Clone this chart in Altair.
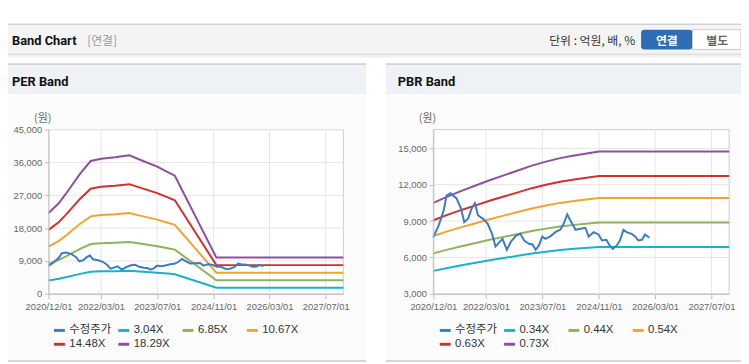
import altair as alt
import pandas as pd

# ---------------- chart values ----------------
price_name = "수정주가"

per_band_names = ["3.04X", "6.85X", "10.67X", "14.48X", "18.29X"]
per_band_multiples = [3.04, 6.85, 10.67, 14.48, 18.29]
pbr_band_names = ["0.34X", "0.44X", "0.54X", "0.63X", "0.73X"]
pbr_band_multiples = [0.34, 0.44, 0.54, 0.63, 0.73]

# per-share earnings behind the PER band lines
eps_dates = ["2020-12-01", "2021-03-01", "2021-05-01", "2021-09-01", "2021-12-01",
             "2022-03-01", "2022-07-01", "2022-11-01", "2023-03-01", "2023-07-01",
             "2023-10-01", "2023-12-01", "2024-11-25", "2027-12-01"]
eps_values = [1210, 1360, 1500, 1800, 1990, 2025, 2045, 2075, 1990, 1905,
              1825, 1770, 543, 543]

# per-share book value behind the PBR band lines
bps_dates = ["2020-12-01", "2021-04-01", "2021-08-01", "2021-12-01", "2022-04-01",
             "2022-08-01", "2022-12-01", "2023-04-01", "2023-08-01", "2023-12-01",
             "2024-04-01", "2024-08-01", "2024-11-01", "2027-12-01"]
bps_values = [14400, 15100, 15750, 16350, 16950, 17500, 18050, 18600, 19050, 19450,
              19750, 20000, 20200, 20200]

# adjusted share price (수정주가)
price_dates = ["2020-12-01", "2021-01-16", "2021-02-28", "2021-03-25", "2021-04-28",
               "2021-06-19", "2021-07-28", "2021-08-25", "2021-09-28", "2021-10-28",
               "2021-11-25", "2021-12-22", "2022-02-04", "2022-03-16", "2022-04-22",
               "2022-05-22", "2022-06-25", "2022-07-22", "2022-08-28", "2022-10-04",
               "2022-11-16", "2022-12-22", "2023-01-25", "2023-03-07", "2023-04-07",
               "2023-05-04", "2023-06-01", "2023-07-01", "2023-07-28", "2023-09-10",
               "2023-10-22", "2023-12-04", "2024-01-01", "2024-02-01", "2024-02-28",
               "2024-04-13", "2024-05-25", "2024-07-07", "2024-08-04", "2024-09-16",
               "2024-10-28", "2024-11-28", "2025-01-04", "2025-02-01", "2025-03-01",
               "2025-04-04", "2025-05-01", "2025-06-01", "2025-06-28", "2025-08-10",
               "2025-09-10", "2025-10-07", "2025-11-07", "2025-12-04", "2026-01-10"]
price_values = [7670, 8640, 9880, 11100, 11300, 10870, 10040, 8910, 9220, 10040,
                10480, 9470, 9190, 8780, 7950, 6900, 7260, 7540, 6630, 7340,
                7810, 7950, 7400, 7130, 7070, 6630, 6990, 7730, 7540, 7760,
                8090, 8300, 8780, 9550, 9050, 8280, 8370, 8450, 7730, 8090,
                7900, 7400, 7460, 6990, 6710, 6990, 7400, 8280, 8090, 7950,
                7730, 7400, 7460, 7900, 7620]

x_tick_dates = ["2020-12-01", "2022-03-01", "2023-07-01", "2024-11-01", "2026-03-01", "2027-07-01"]
x_domain_dates = ["2020-12-01", "2027-12-01"]
per_y_ticks = [0, 9000, 18000, 27000, 36000, 45000]
per_y_domain = [0, 45000]
pbr_y_ticks = [3000, 6000, 9000, 12000, 15000]
pbr_y_domain = [3000, 16550]

series_colors = ["#3c7bc6", "#19b3c7", "#8db45a", "#f1a431", "#d2302d", "#8e509b"]

# ---------------- tables ----------------
def band_table(dates, base, names, multiples):
    rows = []
    for n, m in zip(names, multiples):
        for d, b in zip(dates, base):
            rows.append({"date": pd.Timestamp(d), "value": round(b * m), "series": n})
    return pd.DataFrame(rows)


per_df = band_table(eps_dates, eps_values, per_band_names, per_band_multiples)
pbr_df = band_table(bps_dates, bps_values, pbr_band_names, pbr_band_multiples)
price_df = pd.DataFrame({"date": pd.to_datetime(price_dates), "value": price_values,
                         "series": price_name})
xgrid_df = pd.DataFrame({"date": pd.to_datetime(x_tick_dates)})


def dt(s):
    return alt.DateTime(year=int(s[:4]), month=int(s[5:7]), date=int(s[8:10]))


# ---------------- layout (page coords minus 8px margin) ----------------
W, H = 741, 356
TOP, BOTTOM = 121, 287
AX_FONT = "Liberation Sans"
KR_FONT = "Noto Sans CJK KR"
LEG_FONT = "Liberation Sans, Noto Sans CJK KR"


def box(x, x2, y, y2, **kw):
    return alt.Chart().mark_rect(**kw).encode(
        x=alt.value(x), x2=alt.value(x2), y=alt.value(y), y2=alt.value(y2))


def label(text, x, y, **kw):
    return alt.Chart().mark_text(text=text, **kw).encode(x=alt.value(x), y=alt.value(y))


def panel(band_df, x0, x1, y_domain, y_ticks, names, legend_x):
    x_axis = alt.Axis(values=[dt(s) for s in x_tick_dates], format="%Y/%m/%d",
                      orient="bottom", offset=BOTTOM - H, grid=False, zindex=1,
                      domainColor="#bdbdbd", tickColor="#bdbdbd", tickSize=5,
                      labelFont=AX_FONT, labelFontSize=9.5, labelColor="#666",
                      labelPadding=3, labelFlush=False, labelOverlap=False, title=None)
    y_axis = alt.Axis(values=y_ticks, format=",.0f", orient="left", offset=-x0,
                      grid=False, zindex=1, domainColor="#bdbdbd", tickColor="#bdbdbd",
                      tickSize=4, labelFont=AX_FONT, labelFontSize=9.5, labelColor="#666",
                      labelPadding=3, labelOverlap=False, labelFlush=False, title=None)
    x_enc = alt.X("date:T", axis=x_axis,
                  scale=alt.Scale(domain=[dt(s) for s in x_domain_dates], range=[x0, x1]))
    y_enc = alt.Y("value:Q", axis=y_axis,
                  scale=alt.Scale(domain=y_domain, range=[BOTTOM, TOP], nice=False, zero=False))
    color_enc = alt.Color(
        "series:N",
        scale=alt.Scale(domain=[price_name] + names, range=series_colors),
        legend=alt.Legend(orient="none", legendX=legend_x, legendY=317, columns=4,
                          direction="horizontal", symbolType="stroke", symbolSize=121,
                          symbolStrokeWidth=3, labelFont=LEG_FONT, labelFontSize=11.5,
                          labelColor="#333", labelOffset=3, columnPadding=0, rowPadding=1,
                          gridAlign="all", padding=0, title=None),
    )
    frame = box(x0, x1, TOP, BOTTOM, fill="white", stroke="#cccccc", strokeWidth=1)
    vgrid = alt.Chart(xgrid_df).mark_rule(color="#e6e6e6", strokeWidth=1).encode(
        x=x_enc, y=alt.value(TOP), y2=alt.value(BOTTOM))
    hgrid = alt.Chart(pd.DataFrame({"value": y_ticks})).mark_rule(
        color="#e6e6e6", strokeWidth=1).encode(y=y_enc, x=alt.value(x0), x2=alt.value(x1))
    bands = alt.Chart(band_df).mark_line(strokeWidth=2).encode(x=x_enc, y=y_enc, color=color_enc)
    price = alt.Chart(price_df).mark_line(strokeWidth=2).encode(x=x_enc, y=y_enc, color=color_enc)
    return alt.layer(frame, vgrid, hgrid, bands, price)


per_panel = panel(per_df, 41, 339, per_y_domain, per_y_ticks, per_band_names, 45)
pbr_panel = panel(pbr_df, 430, 729, pbr_y_domain, pbr_y_ticks, pbr_band_names, 435)

decor = [
    # header bar
    box(0, W, 14, 15, fill="#b3b3b3"),
    box(0, W, 15, 44, fill="#f4f4f4"),
    box(0, W, 44, 46, fill="#dedede"),
    box(0, W, 46, 48, fill="#f0f0f0"),
    box(640, 692, 20, 40, fill="#2f6db4", cornerRadius=3),
    box(692, W, 20, 40, fill="white", stroke="#c8c8c8", strokeWidth=1),
    # PER panel
    box(0, 362, 54, 56, fill="#d4d4d4"),
    box(0, 362, 56, 85, fill="#eef1f6"),
    box(0, 362, 85, 354, fill="#fcfcfc"),
    box(0, 362, 354, 356, fill="#d6d6d6"),
    # PBR panel
    box(382, W, 54, 56, fill="#d4d4d4"),
    box(382, W, 56, 85, fill="#eef1f6"),
    box(382, W, 85, 354, fill="#fcfcfc"),
    box(382, W, 354, 356, fill="#d6d6d6"),
]

texts = [
    label("Band Chart", 4, 35, font="Roboto", fontSize=13, fontWeight="bold",
          color="#111", align="left", baseline="alphabetic"),
    label("[연결]", 80, 35, font=KR_FONT, fontSize=12, color="#999",
          align="left", baseline="alphabetic"),
    label("단위 : 억원, 배, %", 634, 35, font=KR_FONT, fontSize=12, color="#333",
          align="right", baseline="alphabetic"),
    label("연결", 666, 35, font=KR_FONT, fontSize=12, fontWeight="bold", color="white",
          align="center", baseline="alphabetic"),
    label("별도", 717, 35, font=KR_FONT, fontSize=12, fontWeight="bold", color="#666",
          align="center", baseline="alphabetic"),
    label("PER Band", 4, 77, font="Roboto", fontSize=13, fontWeight="bold",
          color="#111", align="left", baseline="alphabetic"),
    label("PBR Band", 394, 77, font="Roboto", fontSize=13, fontWeight="bold",
          color="#111", align="left", baseline="alphabetic"),
    label("(원)", 35, 110, font=KR_FONT, fontSize=11, color="#666",
          align="center", baseline="middle"),
    label("(원)", 424, 110, font=KR_FONT, fontSize=11, color="#666",
          align="center", baseline="middle"),
]

chart = alt.layer(*decor, per_panel, pbr_panel, *texts).resolve_scale(
    x="independent", y="independent", color="independent"
).properties(
    width=W, height=H, autosize=alt.AutoSizeParams(type="none"), padding=0
).configure_view(strokeWidth=0)

chart.save("out.html", embed_options={"renderer": "svg", "actions": False})
